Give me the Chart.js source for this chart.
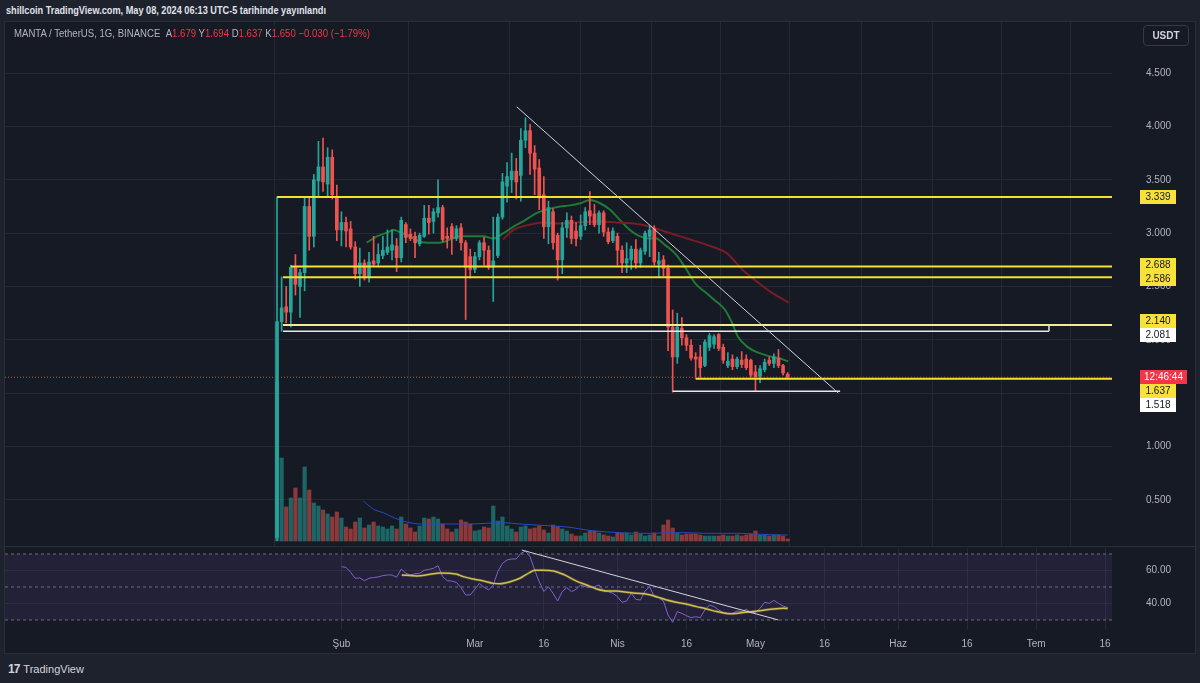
<!DOCTYPE html>
<html><head><meta charset="utf-8">
<script src="https://cdn.jsdelivr.net/npm/chart.js@4.4.1/dist/chart.umd.min.js"></script>
<style>
html,body{margin:0;padding:0;background:#1e222d;width:1200px;height:683px;overflow:hidden;font-family:'Liberation Sans',Arial,sans-serif;}
#hdr{position:absolute;left:6px;top:4px;color:#e0e3eb;font-size:11px;font-weight:bold;white-space:nowrap;transform-origin:left top;}
#box{position:absolute;left:4px;top:21px;width:1190px;height:631px;background:#161a25;border:1px solid #2a2e39;}
#c1{position:absolute;left:5px;top:22px;}
#c2{position:absolute;left:5px;top:546px;}
#sep{position:absolute;left:5px;top:546px;width:1190px;height:1px;background:#2a2e39;}
#legend{position:absolute;left:14px;top:27px;font-size:11px;color:#b2b5be;white-space:nowrap;transform-origin:left top;}
.r{color:#f23645}
#usdt{position:absolute;left:1143px;top:25px;width:44px;height:19px;border:1px solid #363a45;border-radius:4px;color:#d1d4dc;font-size:10px;font-weight:bold;text-align:center;line-height:19px;}
#footer{position:absolute;left:8px;top:662px;color:#d1d4dc;font-size:11px;white-space:nowrap;}
#footer b{font-size:12px;letter-spacing:-1px;margin-right:4px;}
</style></head>
<body>
<div id="hdr">shillcoin TradingView.com, May 08, 2024 06:13 UTC-5 tarihinde yayınlandı</div>
<div id="box"></div>
<canvas id="c1" width="1190" height="524"></canvas>
<canvas id="c2" width="1190" height="107"></canvas>
<div id="sep"></div>
<div id="legend">MANTA / TetherUS, 1G, BINANCE&nbsp;&nbsp;A<span class="r">1.679</span> Y<span class="r">1.694</span> D<span class="r">1.637</span> K<span class="r">1.650</span> <span class="r">−0.030 (−1.79%)</span></div>
<div id="usdt">USDT</div>
<div id="footer"><b>17</b>TradingView</div>
<script>
// ---- data (day index 0 = 2024-01-18) ----
const opens = [0.15,2.17,2.31,2.26,2.68,2.50,2.63,3.25,2.97,3.49,
3.62,3.46,3.71,3.34,3.03,3.10,3.04,2.87,2.62,2.72,
2.59,2.74,2.72,2.79,2.82,2.84,2.88,2.77,3.08,2.99,
2.97,2.90,2.97,3.14,3.11,3.19,3.24,2.97,3.06,2.95,
3.05,2.91,2.78,2.66,2.78,2.91,2.84,2.68,2.79,3.15,
3.44,3.50,3.58,3.54,3.87,3.96,3.75,3.61,3.36,3.06,
3.20,2.98,2.75,3.05,3.12,3.02,2.97,3.07,3.21,3.18,
3.08,3.19,3.01,2.93,2.97,2.84,2.72,2.75,2.85,2.72,
2.83,2.97,3.04,2.71,2.75,2.67,2.12,1.84,2.11,2.02,
1.95,1.84,1.84,1.76,1.93,1.96,2.05,1.93,1.76,1.82,
1.75,1.81,1.82,1.81,1.70,1.66,1.72,1.81,1.78,1.83,
1.76,1.679];
const highs = [3.34,2.59,2.50,2.70,2.80,2.66,3.33,3.34,3.55,3.86,
3.89,3.80,3.78,3.45,3.20,3.15,3.11,2.92,2.86,2.75,
2.82,2.97,2.90,2.97,3.03,3.03,2.95,3.15,3.10,3.04,
3.01,3.00,3.26,3.26,3.23,3.50,3.26,3.05,3.09,3.07,
3.09,2.93,2.85,2.82,2.93,2.96,2.88,3.15,3.18,3.56,
3.66,3.75,3.70,3.98,4.08,4.02,3.82,3.69,3.53,3.30,
3.23,3.00,3.10,3.19,3.16,3.10,3.17,3.24,3.39,3.27,
3.21,3.21,3.05,3.05,3.00,2.88,2.91,2.88,2.94,2.86,
3.02,3.07,3.07,2.82,2.79,2.70,2.28,2.25,2.21,2.05,
2.00,1.88,1.95,2.00,2.06,2.05,2.06,1.96,1.88,1.86,
1.84,1.89,1.86,1.82,1.76,1.76,1.82,1.84,1.87,1.91,
1.77,1.694];
const lows = [0.12,2.08,2.16,2.12,2.42,2.21,2.46,2.84,2.87,3.34,
3.39,3.34,3.32,2.93,2.88,2.87,2.85,2.57,2.50,2.56,
2.54,2.69,2.69,2.76,2.80,2.75,2.64,2.73,2.91,2.93,
2.77,2.88,2.96,2.99,3.00,3.15,2.92,2.86,2.80,2.93,
2.84,2.19,2.58,2.63,2.75,2.70,2.66,2.36,2.77,3.13,
3.29,3.38,3.32,3.30,3.80,3.55,3.36,3.22,2.95,2.90,
2.85,2.56,2.62,2.96,2.90,2.88,2.94,3.03,3.08,3.06,
3.00,2.97,2.90,2.91,2.70,2.63,2.63,2.66,2.67,2.68,
2.80,2.78,2.70,2.59,2.60,1.90,1.51,1.78,1.95,1.90,
1.81,1.64,1.65,1.75,1.90,1.92,1.90,1.78,1.74,1.72,
1.73,1.74,1.72,1.65,1.52,1.60,1.70,1.76,1.74,1.74,
1.67,1.637];
const closes = [2.17,2.30,2.26,2.68,2.52,2.63,3.25,2.97,3.50,3.62,
3.48,3.71,3.36,3.03,3.10,3.02,2.87,2.62,2.72,2.58,
2.73,2.71,2.80,2.84,2.87,2.89,2.77,3.12,2.96,2.95,
2.91,2.98,3.14,3.10,3.20,3.24,2.94,2.95,2.95,3.04,
2.91,2.68,2.66,2.78,2.91,2.84,2.68,2.74,3.15,3.48,
3.53,3.58,3.48,3.87,3.96,3.75,3.60,3.33,3.06,3.24,
2.91,2.75,3.05,3.12,2.95,2.95,3.07,3.20,3.16,3.08,
3.19,3.01,2.92,3.02,2.84,2.72,2.76,2.85,2.72,2.84,
3.00,3.03,2.73,2.74,2.67,2.12,1.84,2.12,2.02,1.95,
1.83,1.82,1.74,1.98,2.04,2.03,1.92,1.81,1.80,1.75,
1.82,1.77,1.74,1.67,1.65,1.73,1.79,1.78,1.84,1.76,
1.69,1.650];
const volumes = [160,83,34,43,53,43,74,51,38,35,
31,27,24,29,23,14,12,19,23,13,
16,19,15,14,12,15,12,24,17,13,
9,15,23,22,24,22,17,12,9,12,
21,19,17,10,11,14,13,35,20,24,
15,12,9,14,15,12,13,15,11,8,
16,14,12,10,7,5,5,8,10,10,
8,6,5,4,8,8,8,6,9,7,
5,6,8,5,16,21,13,8,6,7,
7,7,6,5,5,5,5,6,5,5,
6,5,6,7,10,6,6,5,6,6,
5,2];
const volMa = [[18.8,40],[20.2,34.3],[21.3,31],[23.1,28.3],[24.6,25],[26.7,21],[28.9,18.3],[31.1,17],[34.7,17],[38.3,17],[41.8,17],[45.6,17.7],[49.2,18.3],[52.8,17],[56.4,16],[60.1,15],[63.7,13.7],[67.3,11],[70.9,9.3],[74.6,8.3],[78.2,7.7],[81.8,7.7],[85.4,8.3],[89.1,8.3],[92.7,7.7],[96.3,7.7],[99.9,7.7],[103.6,7],[107.2,6.3],[109.3,6],[111,6]];
const maGreen = [[19.5,2.91],[21.7,2.97],[24.2,3.01],[25.3,3.03],[26.7,3.01],[28.9,2.97],[31.1,2.92],[33.3,2.91],[35.4,2.91],[37.6,2.94],[39.8,2.97],[42.0,2.97],[44.8,2.97],[47.0,2.95],[49.2,3.00],[51.4,3.06],[53.5,3.11],[56.5,3.19],[58.6,3.22],[61.5,3.25],[63.7,3.26],[65.9,3.28],[68.0,3.31],[70.2,3.28],[72.4,3.22],[74.6,3.12],[76.7,3.03],[78.9,2.97],[81.1,2.95],[82.2,2.955],[84.3,2.89],[86.5,2.81],[88.7,2.68],[90.9,2.53],[93.0,2.45],[95.2,2.37],[97.4,2.28],[98.9,2.16],[100.2,2.03],[102.4,1.93],[104.6,1.88],[106.7,1.85],[108.9,1.83],[111.1,1.80]];
const maRed = [[49.1,2.94],[51.4,3.03],[55,3.08],[57.9,3.10],[60.8,3.09],[65.2,3.10],[70.2,3.11],[73.8,3.10],[77.5,3.09],[81.1,3.06],[84.7,3.01],[89.1,2.95],[93.4,2.89],[97.8,2.81],[101.1,2.66],[103.9,2.56],[107.6,2.44],[111.2,2.35]];
const rsiStart = 14;
const rsiValues = [62.3,61.9,58.9,55.3,55.5,53.8,55.3,55.7,56.1,56.9,
57.3,57.3,55.9,60.9,58.3,57.3,58.1,58.3,60.1,60.7,
61.3,62.9,56.3,53.8,53.6,52.8,49.6,45.2,45.2,48.6,
52.2,49.8,48.2,51.2,59.3,64.3,66.4,67.0,67.0,70.4,
71.8,68.4,60.3,53.2,47.2,50.2,46.2,41.5,47.2,49.6,
47.2,48.6,51.2,50.2,49.6,50.2,51.2,47.8,47.2,46.2,
44.1,40.7,41.5,46.2,42.5,42.1,47.6,50.2,44.1,43.5,
41.5,33.0,28.6,35.1,34.0,32.6,31.4,32.0,31.4,36.1,
39.1,38.1,36.1,34.6,34.0,34.0,35.5,35.1,36.5,34.4,
34.6,37.1,40.7,40.1,41.9,40.1,38.5,37.5];
const rsiMa = [[27.1,57.3],[30.4,56.7],[33.3,57.7],[35.4,58.5],[39.1,57.7],[40.5,56.3],[42.7,54.8],[44.9,53.6],[47.0,52.2],[48.5,52.0],[50.7,53.2],[52.8,55.3],[55.0,58.9],[56.1,60.1],[57.9,60.1],[60.1,59.7],[62.2,57.7],[65.1,53.6],[67.3,51.2],[69.5,48.8],[71.7,47.6],[73.8,47.6],[76.0,46.8],[78.2,46.2],[80.4,45.6],[82.5,44.1],[84.7,42.1],[86.9,40.7],[89.1,39.5],[91.2,38.1],[93.4,36.7],[95.6,35.1],[97.7,34.0],[99.2,33.8],[101.4,34.6],[103.5,35.1],[105.7,35.9],[107.9,36.7],[110.1,37.1],[111,36.9]];
const levelPrices = [3.339, 2.688, 2.586, 2.140, 2.081, 1.637, 1.518];
const levelStart  = [0, 3, 1.3, 1.3, 1.3, 91, 86];
const levelEnd    = [null, null, null, null, 167.8, null, 122.4];
const levelKind   = ['y','y','y','y2','w','y','w'];
const priceTrend = [[52.1,4.184],[122.0,1.502]];
const rsiTrend = [[53.2,72.4],[109.0,30.0]];
const lastPrice = 1.650;
const countdown = '12:46:44';
const priceTicks = [0.5,1,1.5,2,2.5,3,3.5,4,4.5];
const rsiTicks = [40,60];
const rsiBands = [70,50,30];
const timeTicks = [14,43,58,74,89,104,119,135,150,165,180];
const timeLabels = ['Şub','Mar','16','Nis','16','May','16','Haz','16','Tem','16'];

// ---- layout constants ----
const XMIN = -59.13, XMAX = 181.5;
const PMIN = 0.069, PMAX = 4.978;
const UP = '#26a69a', DOWN = '#ef5350';
const GRID = 'rgba(42,46,57,0.75)';
const FONT = "'Liberation Sans', Arial, sans-serif";
Chart.defaults.font.family = FONT;
Chart.defaults.font.size = 10;
Chart.defaults.color = '#b2b5be';

const isUp = i => closes[i] >= opens[i];
const pts = arr => arr.map(p => ({x:p[0], y:p[1]}));
const line = (data, color, width, extra) => Object.assign({type:'line', data, borderColor:color, borderWidth:width, pointRadius:0, fill:false, tension:0}, extra||{});

const ds1 = [];
ds1.push({type:'bar', yAxisID:'vol', order:20, grouped:false, barThickness:3.5,
  data: volumes.map((v,i)=>({x:i, y:v})),
  backgroundColor: c => isUp(c.dataIndex) ? 'rgba(38,166,154,0.55)' : 'rgba(239,83,80,0.55)'});
ds1.push(line(pts(volMa), '#2649c9', 1, {yAxisID:'vol', order:19, cubicInterpolationMode:'monotone'}));
ds1.push(line(pts(maRed), '#7a1b25', 2, {yAxisID:'y', order:12, cubicInterpolationMode:'monotone'}));
ds1.push(line(pts(maGreen), '#1f7a33', 2, {yAxisID:'y', order:12, cubicInterpolationMode:'monotone'}));
ds1.push({type:'bar', yAxisID:'y', order:8, grouped:false, barThickness:1,
  data: lows.map((l,i)=>({x:i, y:[l, highs[i]]})),
  backgroundColor: c => isUp(c.dataIndex) ? UP : DOWN});
ds1.push({type:'bar', yAxisID:'y', order:7, grouped:false, barThickness:3, minBarLength:1,
  data: opens.map((o,i)=>({x:i, y:[o, closes[i]]})),
  backgroundColor: c => isUp(c.dataIndex) ? UP : DOWN});
levelPrices.forEach((p,i)=>{
  const col = levelKind[i]==='w' ? '#e8e8e8' : (levelKind[i]==='y2' ? '#f3eb8c' : '#f5e130');
  const wid = levelKind[i]==='w' ? 1.5 : 2;
  ds1.push(line([{x:levelStart[i], y:p},{x:levelEnd[i]===null?XMAX:levelEnd[i], y:p}], col, wid, {yAxisID:'y', order:4}));
});
ds1.push(line([{x:167.8,y:levelPrices[4]},{x:167.8,y:levelPrices[3]}], '#e8e8e8', 1.5, {yAxisID:'y', order:4}));
ds1.push(line(pts(priceTrend), '#d1d4dc', 1, {yAxisID:'y', order:3}));
ds1.push(line([{x:XMIN,y:lastPrice},{x:XMAX,y:lastPrice}], '#f23645', 1, {yAxisID:'y', order:2, borderDash:[1,2]}));

function resolveLabels(items, H){
  items.sort((a,b)=>a.y-b.y);
  let clusters = items.map(it=>[it]);
  const place = cl => {
    const f = cl.findIndex(it=>it.fixed);
    let top;
    if (f>=0) top = cl[f].y - f*H - H/2;
    else top = cl.reduce((s,it)=>s+it.y,0)/cl.length - cl.length*H/2;
    cl.forEach((it,k)=>{ it.py = top + k*H + H/2; });
  };
  let changed = true;
  while (changed){
    changed = false;
    clusters.forEach(place);
    for (let k=0;k<clusters.length-1;k++){
      const a = clusters[k], b = clusters[k+1];
      if (a[a.length-1].py + H/2 > b[0].py - H/2 + 0.01){
        clusters.splice(k,2,a.concat(b)); changed = true; break;
      }
    }
  }
  clusters.forEach(place);
  return items;
}

const axisLabels = {
  id:'axisLabels',
  afterDraw(chart){
    const {ctx, chartArea, scales} = chart;
    const y = scales.y;
    const H = 14;
    const items = levelPrices.map((p,i)=>({y:y.getPixelForValue(p), text:p.toFixed(3),
      bg: levelKind[i]==='w' ? '#ffffff' : '#f7e13a', fg:'#131722', w:36}));
    items.push({y:y.getPixelForValue(lastPrice), text:countdown, bg:'#f23645', fg:'#ffffff', w:47, fixed:true});
    resolveLabels(items, H);
    ctx.save();
    ctx.font = '10px ' + FONT;
    ctx.textBaseline = 'middle';
    ctx.textAlign = 'center';
    const x0 = chartArea.right + 28;
    items.forEach(it=>{
      ctx.fillStyle = it.bg;
      ctx.fillRect(x0, Math.round(it.py - H/2), it.w, H);
      ctx.fillStyle = it.fg;
      ctx.fillText(it.text, x0 + it.w/2, it.py + 0.5);
    });
    ctx.restore();
  }
};

const xScaleBase = () => ({
  type:'linear', min:XMIN, max:XMAX, offset:false,
  grid:{color:GRID, drawTicks:false}, border:{display:false},
  afterBuildTicks: s => { s.ticks = timeTicks.map(v=>({value:v})); }
});

new Chart(document.getElementById('c1'), {
  type:'bar',
  data:{datasets: ds1},
  options:{
    responsive:false, animation:false, devicePixelRatio:1,
    layout:{padding:0, autoPadding:false},
    plugins:{legend:{display:false}, tooltip:{enabled:false}},
    scales:{
      x: Object.assign(xScaleBase(), {ticks:{display:false}, afterFit: s=>{ s.height = 0; }}),
      y: {position:'right', min:PMIN, max:PMAX,
        grid:{color:GRID, drawTicks:false}, border:{display:false},
        ticks:{padding:34, color:'#b2b5be', font:{size:10}, callback: v => Number(v).toFixed(3)},
        afterBuildTicks: s => { s.ticks = priceTicks.map(v=>({value:v})); },
        afterFit: s => { s.width = 83; s.paddingTop = 0; s.paddingBottom = 0; }},
      vol: {display:false, min:-5, max:519}
    }
  },
  plugins:[axisLabels]
});

// ---- RSI pane ----
const ds2 = [];
rsiBands.forEach((b,i)=>{
  const extra = {yAxisID:'y', borderDash:[3,3], order:10};
  if (i===0){ extra.fill = 2; extra.backgroundColor = 'rgba(126,87,194,0.12)'; }
  ds2.push(line([{x:XMIN,y:b},{x:XMAX,y:b}], '#6a6d78', 1, extra));
});
ds2.push(line(rsiValues.map((v,i)=>({x:i+rsiStart, y:v})), '#8161cc', 1, {yAxisID:'y', order:5}));
ds2.push(line(pts(rsiMa), 'rgba(230,215,90,0.18)', 3, {yAxisID:'y', order:4, cubicInterpolationMode:'monotone'}));
ds2.push(line(pts(rsiMa), '#d2c04a', 1.5, {yAxisID:'y', order:3, cubicInterpolationMode:'monotone'}));
ds2.push(line(pts(rsiTrend), '#d1d4dc', 1, {yAxisID:'y', order:2}));

new Chart(document.getElementById('c2'), {
  type:'line',
  data:{datasets: ds2},
  options:{
    responsive:false, animation:false, devicePixelRatio:1,
    layout:{padding:{top:2, left:0, right:0, bottom:0}, autoPadding:false},
    plugins:{legend:{display:false}, tooltip:{enabled:false}},
    scales:{
      x: Object.assign(xScaleBase(), {
        ticks:{padding:8, color:'#b2b5be', font:{size:10}, maxRotation:0, autoSkip:false,
          callback: v => { const k = timeTicks.indexOf(v); return k>=0 ? timeLabels[k] : ''; }},
        afterFit: s=>{ s.height = 23; s.paddingLeft = 0; s.paddingRight = 0; }}),
      y: {position:'right', min:23.94, max:73.64,
        grid:{color:GRID, drawTicks:false}, border:{display:false},
        ticks:{padding:34, color:'#b2b5be', font:{size:10}, callback: v => Number(v).toFixed(2)},
        afterBuildTicks: s => { s.ticks = rsiTicks.map(v=>({value:v})); },
        afterFit: s => { s.width = 83; s.paddingTop = 0; s.paddingBottom = 0; }}
    }
  }
});

const fit = (id, w) => { const el = document.getElementById(id); el.style.transform = 'scaleX(' + (w/el.scrollWidth) + ')'; };
fit('hdr', 320); fit('legend', 356);
</script>
</body></html>
